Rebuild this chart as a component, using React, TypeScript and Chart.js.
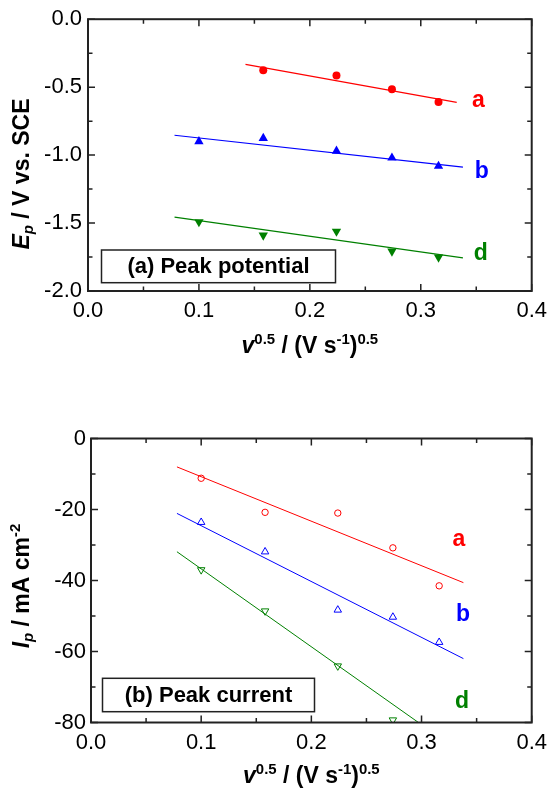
import React, { useEffect, useRef } from 'react';
import { Chart, registerables } from 'chart.js';

Chart.register(...registerables);

const FONT = '"Liberation Sans", Arial, Helvetica, sans-serif';

// ---- data ----
const sqrtScanRate = [0.1, 0.158, 0.224, 0.274, 0.316];
const seriesNames = ['a', 'b', 'd'];
const seriesColors = ['#ff0000', '#0000ff', '#008000'];

// (a) peak potential, V vs. SCE
const peakPotentialA = [null, -0.376, -0.415, -0.516, -0.61];
const peakPotentialB = [-0.9, -0.876, -0.97, -1.02, -1.081];
const peakPotentialD = [-1.491, -1.59, -1.561, -1.708, -1.752];
const potentialFitX = [
  [0.142, 0.3324],
  [0.078, 0.338],
  [0.078, 0.338],
];
const potentialFitY = [
  [-0.333, -0.612],
  [-0.854, -1.088],
  [-1.457, -1.756],
];
const potentialLabelX = [0.352, 0.355, 0.354];
const potentialLabelY = [-0.598, -1.119, -1.727];

// (b) peak current, mA cm-2
const peakCurrentA = [-11.2, -20.8, -21.0, -30.8, -41.5];
const peakCurrentB = [-23.6, -31.9, -48.3, -50.3, -57.4];
const peakCurrentD = [-37.0, -48.6, -64.1, -79.3, null];
const currentFitX = [
  [0.078, 0.338],
  [0.078, 0.338],
  [0.078, 0.2995],
];
const currentFitY = [
  [-8.0, -40.6],
  [-21.1, -62.0],
  [-31.9, -80.5],
];
const currentLabelX = [0.334, 0.3376, 0.3367];
const currentLabelY = [-28.6, -49.7, -74.1];

const xTickMin = 0;
const xTickMax = 0.4;
const xTickStep = 0.1;
const potentialTicks = { min: -2, max: 0, step: 0.5 };
const currentTicks = { min: -80, max: 0, step: 20 };

type Seg = { t: string; it?: boolean; sup?: boolean; sub?: boolean };

function drawRich(ctx: CanvasRenderingContext2D, segs: Seg[], x: number, y: number, size: number, rotate: boolean) {
  ctx.save();
  ctx.translate(x, y);
  if (rotate) ctx.rotate(-Math.PI / 2);
  const fontOf = (s: Seg) => {
    const sz = s.sup || s.sub ? size * 0.65 : size;
    return `${s.it ? 'italic ' : ''}bold ${sz}px ${FONT}`;
  };
  let total = 0;
  const widths = segs.map((s) => {
    ctx.font = fontOf(s);
    const w = ctx.measureText(s.t).width;
    total += w;
    return w;
  });
  let cx = -total / 2;
  ctx.textBaseline = 'alphabetic';
  ctx.textAlign = 'left';
  ctx.fillStyle = '#000';
  segs.forEach((s, i) => {
    ctx.font = fontOf(s);
    const dy = s.sup ? -size * 0.38 : s.sub ? size * 0.2 : 0;
    ctx.fillText(s.t, cx, dy);
    cx += widths[i];
  });
  ctx.restore();
}

type PanelCfg = {
  pointSets: (number | null)[][];
  fitX: number[][];
  fitY: number[][];
  labelX: number[];
  labelY: number[];
  yTicks: { min: number; max: number; step: number };
  yDecimals: number;
  yMinor: number;
  filled: boolean;
  pointRadius: number[];
  lineWidth: number;
  yTitle: Seg[];
  yTitleCenter: number;
  xTitleOffset: number;
  legendText: string;
  legendBox: [number, number, number, number];
  area: { left: number; right: number; top: number; bottom: number };
  yPad: number;
};

const xTitle: Seg[] = [
  { t: 'v', it: true },
  { t: '0.5', sup: true },
  { t: ' / (V s' },
  { t: '-1', sup: true },
  { t: ')' },
  { t: '0.5', sup: true },
];

const CANVAS_W = 554;
const CANVAS_H = 397;

function buildConfig(cfg: PanelCfg): any {
  const datasets: any[] = [];
  cfg.pointSets.forEach((arr, i) => {
    const color = seriesColors[i];
    datasets.push({
      type: 'scatter',
      data: sqrtScanRate
        .map((x, j) => ({ x, y: arr[j] }))
        .filter((p) => p.y !== null),
      pointStyle: i === 0 ? 'circle' : 'triangle',
      rotation: i === 2 ? 180 : 0,
      pointRadius: cfg.pointRadius[i],
      pointHoverRadius: cfg.pointRadius[i],
      backgroundColor: cfg.filled ? color : 'rgba(0,0,0,0)',
      borderColor: color,
      borderWidth: cfg.filled ? 0 : 1,
      showLine: false,
    });
    datasets.push({
      type: 'scatter',
      data: cfg.fitX[i].map((x, j) => ({ x, y: cfg.fitY[i][j] })),
      showLine: true,
      pointRadius: 0,
      borderColor: color,
      borderWidth: cfg.lineWidth,
      fill: false,
    });
  });

  const a = cfg.area;

  const decor = {
    id: 'decor',
    afterDatasetsDraw(chart: any) {
      const ctx: CanvasRenderingContext2D = chart.ctx;
      const xs = chart.scales.x;
      const ys = chart.scales.y;
      const ca = chart.chartArea;
      ctx.save();
      // frame
      ctx.strokeStyle = '#222';
      ctx.lineWidth = 2;
      ctx.strokeRect(ca.left, ca.top, ca.right - ca.left, ca.bottom - ca.top);
      // ticks
      ctx.lineWidth = 1.5;
      ctx.beginPath();
      for (let k = 0; k <= 8; k++) {
        const v = xTickMin + (k * xTickStep) / 2;
        const px = xs.getPixelForValue(v);
        const len = k % 2 === 0 ? 7 : 4.5;
        ctx.moveTo(px, ca.bottom);
        ctx.lineTo(px, ca.bottom - len);
        ctx.moveTo(px, ca.top);
        ctx.lineTo(px, ca.top + len);
      }
      const nY = Math.round((cfg.yTicks.max - cfg.yTicks.min) / cfg.yMinor);
      for (let k = 0; k <= nY; k++) {
        const v = cfg.yTicks.min + k * cfg.yMinor;
        const py = ys.getPixelForValue(v);
        const len = k % 2 === 0 ? 7 : 4.5;
        ctx.moveTo(ca.left, py);
        ctx.lineTo(ca.left + len, py);
        ctx.moveTo(ca.right, py);
        ctx.lineTo(ca.right - len, py);
      }
      ctx.stroke();

      // series letters
      ctx.font = `bold 23px ${FONT}`;
      ctx.textAlign = 'center';
      ctx.textBaseline = 'middle';
      seriesNames.forEach((n, i) => {
        ctx.fillStyle = seriesColors[i];
        ctx.fillText(n, xs.getPixelForValue(cfg.labelX[i]), ys.getPixelForValue(cfg.labelY[i]));
      });

      // legend box
      const [bx, by, bw, bh] = cfg.legendBox;
      ctx.fillStyle = '#fff';
      ctx.fillRect(bx, by, bw, bh);
      ctx.strokeStyle = '#222';
      ctx.lineWidth = 1.5;
      ctx.strokeRect(bx, by, bw, bh);
      ctx.fillStyle = '#000';
      ctx.font = `bold 22px ${FONT}`;
      ctx.textAlign = 'center';
      ctx.textBaseline = 'middle';
      ctx.fillText(cfg.legendText, bx + bw / 2, by + bh / 2 + 1);

      // axis titles
      drawRich(ctx, xTitle, (ca.left + ca.right) / 2, ca.bottom + cfg.xTitleOffset, 23, false);
      drawRich(ctx, cfg.yTitle, 28.5, cfg.yTitleCenter, 23, true);
      ctx.restore();
    },
  };

  return {
    type: 'scatter',
    data: { datasets },
    options: {
      responsive: false,
      animation: false,
      events: [],
      layout: {
        padding: { left: 0, top: a.top, right: CANVAS_W - a.right, bottom: 0 },
      },
      plugins: { legend: { display: false }, tooltip: { enabled: false } },
      scales: {
        x: {
          type: 'linear',
          min: xTickMin,
          max: xTickMax,
          grid: { display: false, drawTicks: false },
          border: { display: false },
          ticks: {
            stepSize: xTickStep,
            color: '#000',
            font: { family: FONT, size: 22 },
            padding: 7,
            maxRotation: 0,
            autoSkip: false,
            callback: (v: number) => Number(v).toFixed(1),
          },
          afterFit: (s: any) => {
            s.height = CANVAS_H - a.bottom;
          },
        },
        y: {
          type: 'linear',
          min: cfg.yTicks.min,
          max: cfg.yTicks.max,
          grid: { display: false, drawTicks: false },
          border: { display: false },
          ticks: {
            stepSize: cfg.yTicks.step,
            color: '#000',
            font: { family: FONT, size: 22 },
            padding: cfg.yPad,
            autoSkip: false,
            callback: (v: number) => Number(v).toFixed(cfg.yDecimals),
          },
          afterFit: (s: any) => {
            s.width = a.left;
          },
        },
      },
    },
    plugins: [decor],
  };
}

const topPanel: PanelCfg = {
  pointSets: [peakPotentialA, peakPotentialB, peakPotentialD],
  fitX: potentialFitX,
  fitY: potentialFitY,
  labelX: potentialLabelX,
  labelY: potentialLabelY,
  yTicks: potentialTicks,
  yDecimals: 1,
  yMinor: 0.25,
  filled: true,
  pointRadius: [4, 5.4, 5.4],
  lineWidth: 1.2,
  yTitle: [{ t: 'E', it: true }, { t: 'p', it: true, sub: true }, { t: ' / V vs. SCE' }],
  yTitleCenter: 174,
  xTitleOffset: 62,
  legendText: '(a) Peak potential',
  legendBox: [101.5, 250, 234, 32.7],
  area: { left: 88, right: 536, top: 15, bottom: 291 },
  yPad: 6,
};

const bottomPanel: PanelCfg = {
  pointSets: [peakCurrentA, peakCurrentB, peakCurrentD],
  fitX: currentFitX,
  fitY: currentFitY,
  labelX: currentLabelX,
  labelY: currentLabelY,
  yTicks: currentTicks,
  yDecimals: 0,
  yMinor: 10,
  filled: false,
  pointRadius: [3.2, 4.3, 4.3],
  lineWidth: 1,
  yTitle: [
    { t: 'I', it: true },
    { t: 'p', it: true, sub: true },
    { t: ' / mA cm' },
    { t: '-2', sup: true },
  ],
  yTitleCenter: 189,
  xTitleOffset: 60,
  legendText: '(b) Peak current',
  legendBox: [102.5, 281.3, 212, 33.4],
  area: { left: 91, right: 534, top: 41.5, bottom: 325.5 },
  yPad: 5,
};

function Panel({ cfg }: { cfg: PanelCfg }) {
  const ref = useRef<HTMLCanvasElement>(null);
  useEffect(() => {
    const chart = new Chart(ref.current as HTMLCanvasElement, buildConfig(cfg));
    return () => chart.destroy();
  }, [cfg]);
  return <canvas ref={ref} width={CANVAS_W} height={CANVAS_H} style={{ display: 'block' }} />;
}

export default function App() {
  useEffect(() => {
    document.body.style.margin = '0';
    document.body.style.background = '#fff';
  }, []);
  return (
    <div style={{ width: CANVAS_W, height: CANVAS_H * 2, background: '#fff' }}>
      <Panel cfg={topPanel} />
      <Panel cfg={bottomPanel} />
    </div>
  );
}
